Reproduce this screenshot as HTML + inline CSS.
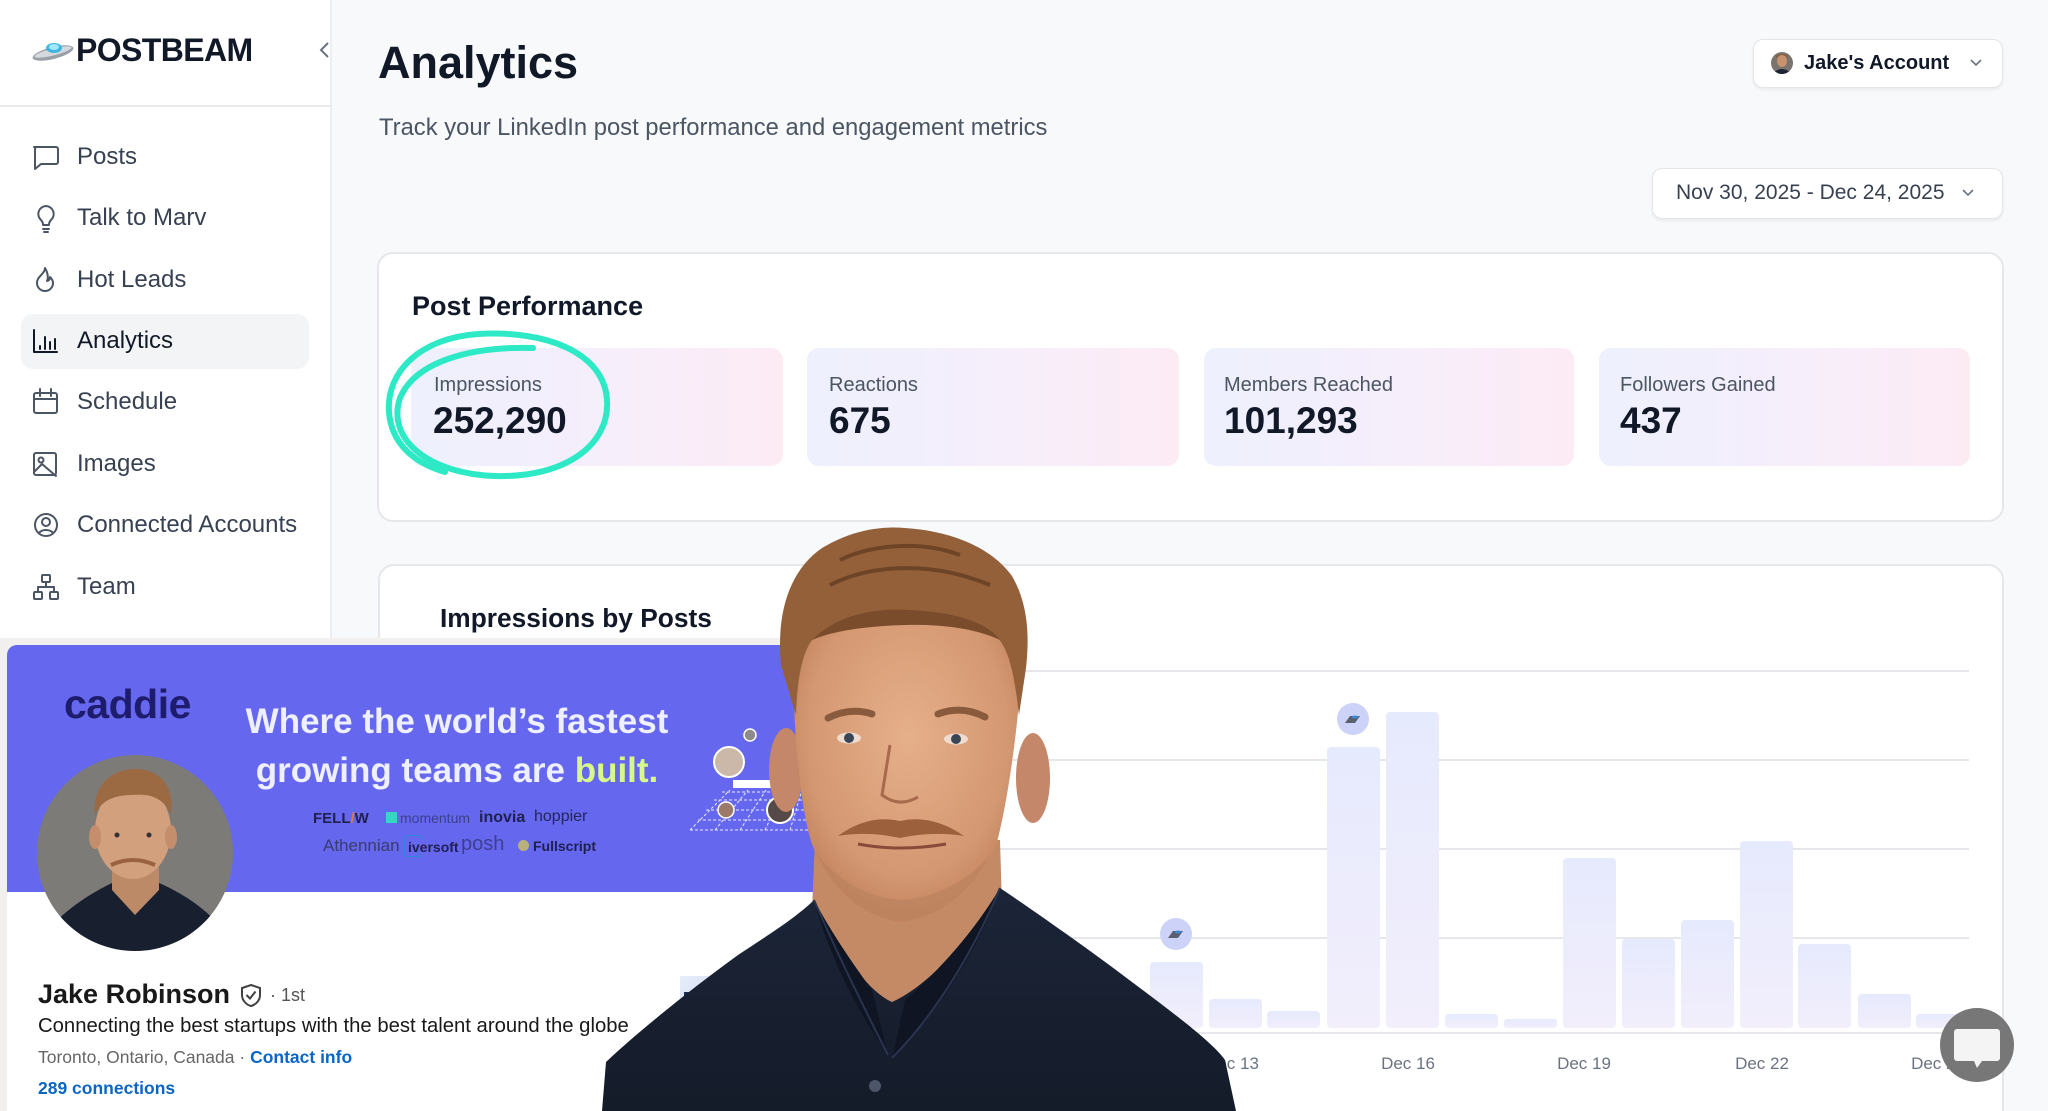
<!DOCTYPE html>
<html>
<head>
<meta charset="utf-8">
<style>
*{margin:0;padding:0;box-sizing:border-box;}
html,body{width:2048px;height:1111px;overflow:hidden;background:#f8f9fb;}
body{font-family:"Liberation Sans",Arial,sans-serif;position:relative;}
.a{position:absolute;}
.t{position:absolute;white-space:nowrap;line-height:1;}
.nav{font-size:24px;color:#374151;left:77px;}
.card{background:#fff;border:2px solid #e6e7ea;border-radius:16px;}
.stat{border-radius:12px;background:linear-gradient(90deg,#eef0fd 0%,#f6eefb 55%,#fdebf4 100%);}
.sl{font-size:20px;color:#4b5563;}
.sv{font-size:37px;font-weight:bold;color:#111827;}
.btn{background:#fff;border:1.5px solid #e3e5e8;border-radius:10px;box-shadow:0 2px 3px rgba(0,0,0,0.06);}
</style>
</head>
<body>

<!-- Sidebar -->
<div class="a" style="left:0;top:0;width:332px;height:640px;background:#fff;border-right:2px solid #eceef1;"></div>
<div class="a" style="left:0;top:105px;width:332px;height:2px;background:#e9eaec;"></div>

<!-- logo -->
<svg class="a" style="left:30px;top:38px" width="46" height="26" viewBox="0 0 46 26">
  <ellipse cx="23" cy="15" rx="21" ry="6" transform="rotate(-14 23 15)" fill="#9aa0a8"/>
  <ellipse cx="23" cy="14" rx="19" ry="3.5" transform="rotate(-14 23 14)" fill="#d5d8dc"/>
  <ellipse cx="24" cy="10" rx="8" ry="5" fill="#3fb6e0"/>
  <ellipse cx="24" cy="9" rx="5" ry="3" fill="#9fe8ff"/>
</svg>
<div class="t" style="left:76px;top:34px;font-size:32px;font-weight:bold;color:#111827;letter-spacing:-0.6px;">POSTBEAM</div>
<svg class="a" style="left:318px;top:41px" width="14" height="18" viewBox="0 0 14 18"><path d="M10 2 L3 9 L10 16" stroke="#6b7280" stroke-width="2" fill="none"/></svg>

<!-- active nav -->
<div class="a" style="left:21px;top:314px;width:288px;height:55px;background:#f3f4f6;border-radius:12px;"></div>

<!-- nav icons -->
<svg class="a" style="left:0;top:0" width="332" height="640" viewBox="0 0 332 640" fill="none" stroke="#4b5563" stroke-width="2" stroke-linecap="round" stroke-linejoin="round">
  <path d="M34 147 h22 a2 2 0 0 1 2 2 v13 a2 2 0 0 1 -2 2 h-15 l-6 5 v-20 a2 2 0 0 1 2 -2 z"/>
  <path d="M46 206 a8 8 0 0 0 -5 14 c1.5 1.5 2 3 2 5 h6 c0 -2 0.5 -3.5 2 -5 a8 8 0 0 0 -5 -14 z M43 229 h6 M44 232 h4"/>
  <path d="M45 268 c0 6 -8 8 -8 15 a8 8 0 0 0 16 0 c0 -3 -2 -5 -3 -6 c0 3 -2 4 -3 4 c2 -4 0 -10 -2 -13 z"/>
  <path d="M34 330 v22 h23 M40 346 v3 M45 337 v12 M50 342 v7 M55 339 v10" stroke="#111827"/>
  <rect x="34" y="393" width="23" height="20" rx="2"/><path d="M34 399 h23 M40 389 v7 M51 389 v7"/>
  <rect x="34" y="453" width="22" height="22" rx="2"/><circle cx="41" cy="460" r="2.5"/><path d="M34 472 l8 -8 l14 12"/>
  <circle cx="46" cy="525" r="11"/><circle cx="46" cy="522" r="4"/><path d="M39 533 c3 -4 11 -4 14 0"/>
  <rect x="42" y="575" width="8" height="7" rx="1"/><rect x="34" y="592" width="8" height="7" rx="1"/><rect x="50" y="592" width="8" height="7" rx="1"/><path d="M46 582 v5 M38 592 v-5 h16 v5"/>
</svg>

<div class="t nav" style="top:145px;">Posts</div>
<div class="t nav" style="top:206px;">Talk to Marv</div>
<div class="t nav" style="top:268px;">Hot Leads</div>
<div class="t nav" style="top:329px;color:#111827;">Analytics</div>
<div class="t nav" style="top:390px;">Schedule</div>
<div class="t nav" style="top:452px;">Images</div>
<div class="t nav" style="top:513px;">Connected Accounts</div>
<div class="t nav" style="top:575px;">Team</div>

<!-- Header -->
<div class="t" style="left:378px;top:40px;font-size:45px;font-weight:bold;color:#111827;">Analytics</div>
<div class="t" style="left:379px;top:116px;font-size:23.8px;color:#4b5563;">Track your LinkedIn post performance and engagement metrics</div>

<div class="a btn" style="left:1753px;top:39px;width:250px;height:49px;"></div>
<svg class="a" style="left:1771px;top:52px" width="22" height="22" viewBox="0 0 22 22">
  <defs><clipPath id="av"><circle cx="11" cy="11" r="11"/></clipPath></defs>
  <g clip-path="url(#av)"><rect width="22" height="22" fill="#7a746e"/><ellipse cx="11" cy="9" rx="5" ry="6" fill="#c8926c"/><path d="M5 6 q6 -6 12 0 v-2 q-6 -4 -12 0z" fill="#8a5a36"/><path d="M1 22 q10 -10 20 0z" fill="#1b2334"/></g>
</svg>
<div class="t" style="left:1804px;top:53px;font-size:20px;font-weight:bold;color:#111827;">Jake's Account</div>
<svg class="a" style="left:1969px;top:58px" width="14" height="10" viewBox="0 0 14 10"><path d="M2 2 L7 7 L12 2" stroke="#6b7280" stroke-width="1.6" fill="none"/></svg>

<div class="a btn" style="left:1652px;top:168px;width:351px;height:51px;"></div>
<div class="t" style="left:1676px;top:182px;font-size:21px;color:#374151;">Nov 30, 2025 - Dec 24, 2025</div>
<svg class="a" style="left:1961px;top:188px" width="14" height="10" viewBox="0 0 14 10"><path d="M2 2 L7 7 L12 2" stroke="#6b7280" stroke-width="1.6" fill="none"/></svg>

<!-- Post Performance card -->
<div class="a card" style="left:377px;top:252px;width:1627px;height:270px;"></div>
<div class="t" style="left:412px;top:293px;font-size:27px;font-weight:bold;color:#111827;">Post Performance</div>
<div class="a stat" style="left:411px;top:348px;width:372px;height:118px;"></div>
<div class="a stat" style="left:807px;top:348px;width:372px;height:118px;"></div>
<div class="a stat" style="left:1204px;top:348px;width:370px;height:118px;"></div>
<div class="a stat" style="left:1599px;top:348px;width:371px;height:118px;"></div>
<div class="t sl" style="left:434px;top:375px;">Impressions</div>
<div class="t sv" style="left:433px;top:402px;">252,290</div>
<div class="t sl" style="left:829px;top:375px;">Reactions</div>
<div class="t sv" style="left:829px;top:402px;">675</div>
<div class="t sl" style="left:1224px;top:375px;">Members Reached</div>
<div class="t sv" style="left:1224px;top:402px;">101,293</div>
<div class="t sl" style="left:1620px;top:375px;">Followers Gained</div>
<div class="t sv" style="left:1620px;top:402px;">437</div>

<!-- teal annotation -->
<svg class="a" style="left:0;top:0" width="700" height="520" viewBox="0 0 700 520">
  <path d="M533 348 C470 346 415 362 400 398 C386 440 430 474 495 476 C565 478 610 445 607 400 C604 352 545 330 478 334 C420 338 386 372 389 412 C391 440 410 462 445 472" fill="none" stroke="#2ee9c6" stroke-width="6" stroke-linecap="round"/>
</svg>

<!-- Chart card -->
<div class="a card" style="left:378px;top:564px;width:1626px;height:600px;"></div>
<div class="t" style="left:440px;top:605px;font-size:26.3px;font-weight:bold;color:#111827;">Impressions by Posts</div>

<svg class="a" style="left:0;top:0" width="2048" height="1111" viewBox="0 0 2048 1111">
  <defs>
    <linearGradient id="bg" x1="0" y1="0" x2="0" y2="1"><stop offset="0" stop-color="#e6eafd"/><stop offset="1" stop-color="#f2eefc"/></linearGradient>
  </defs>
  <g stroke="#e6e7ea" stroke-width="2">
    <line x1="440" y1="671" x2="1969" y2="671"/>
    <line x1="440" y1="760" x2="1969" y2="760"/>
    <line x1="440" y1="849" x2="1969" y2="849"/>
    <line x1="440" y1="938" x2="1969" y2="938"/>
    <line x1="440" y1="1033" x2="1969" y2="1033"/>
  </g>
  <g fill="url(#bg)">
    <rect x="1150" y="962" width="53" height="66" rx="4"/>
    <rect x="1209" y="999" width="53" height="29" rx="4"/>
    <rect x="1267" y="1011" width="53" height="17" rx="4"/>
    <rect x="1327" y="747" width="53" height="281" rx="4"/>
    <rect x="1386" y="712" width="53" height="316" rx="4"/>
    <rect x="1445" y="1014" width="53" height="14" rx="4"/>
    <rect x="1504" y="1019" width="53" height="9" rx="3"/>
    <rect x="1563" y="858" width="53" height="170" rx="4"/>
    <rect x="1622" y="939" width="53" height="89" rx="4"/>
    <rect x="1681" y="920" width="53" height="108" rx="4"/>
    <rect x="1740" y="841" width="53" height="187" rx="4"/>
    <rect x="1798" y="944" width="53" height="84" rx="4"/>
    <rect x="1858" y="994" width="53" height="34" rx="4"/>
    <rect x="1916" y="1014" width="53" height="14" rx="4"/>
  </g>
  <circle cx="1176" cy="934" r="16" fill="#cdd2f8"/>
  <path d="M1168 938 l5 -7 h10 l-5 7 z" fill="#5a6070"/><ellipse cx="1178" cy="932" rx="3" ry="1.5" fill="#3a8ad8"/>
  <circle cx="1353" cy="719" r="16" fill="#cdd2f8"/>
  <path d="M1345 723 l5 -7 h10 l-5 7 z" fill="#5a6070"/><ellipse cx="1355" cy="717" rx="3" ry="1.5" fill="#3a8ad8"/>
  <g font-family="Liberation Sans, Arial, sans-serif" font-size="17" fill="#6b7280" text-anchor="middle">
    <text x="1232" y="1069">Dec 13</text>
    <text x="1408" y="1069">Dec 16</text>
    <text x="1584" y="1069">Dec 19</text>
    <text x="1762" y="1069">Dec 22</text>
    <text x="1938" y="1069">Dec 25</text>
  </g>
</svg>

<!-- LinkedIn panel -->
<div class="a" style="left:0;top:638px;width:880px;height:473px;background:#f1f0ee;"></div>
<div class="a" style="left:7px;top:645px;width:873px;height:247px;background:#6567ee;border-top-left-radius:10px;"></div>
<div class="a" style="left:7px;top:892px;width:873px;height:219px;background:#fff;"></div>

<div class="t" style="left:64px;top:684px;font-size:41px;font-weight:bold;color:#1e1c6c;letter-spacing:-0.5px;">caddie</div>
<div class="t" style="left:187px;top:704px;width:540px;text-align:center;font-size:35px;font-weight:bold;color:#eef0ff;">Where the world’s fastest</div>
<div class="t" style="left:187px;top:753px;width:540px;text-align:center;font-size:35px;font-weight:bold;color:#eef0ff;">growing teams are <span style="color:#d8f98a;">built.</span></div>

<div class="t" style="left:313px;top:811px;font-size:15px;font-weight:bold;color:#1f2050;">FELL<span style="color:#e07a3a">/</span>W</div>
<div class="a" style="left:386px;top:812px;width:11px;height:11px;background:#37d6c0;"></div>
<div class="t" style="left:400px;top:811px;font-size:14px;color:#3d3f8c;">momentum</div>
<div class="t" style="left:479px;top:810px;font-size:16px;font-weight:bold;color:#1f2050;">inovia</div>
<div class="t" style="left:534px;top:809px;font-size:16px;color:#23255c;">hoppier</div>
<div class="t" style="left:323px;top:837px;font-size:17px;color:#3a3c70;">Athennian</div>
<div class="a" style="left:404px;top:835px;width:18px;height:22px;border:1.5px solid #2e8ad8;border-radius:3px;"></div>
<div class="t" style="left:408px;top:840px;font-size:14px;font-weight:bold;color:#1f2050;">iversoft</div>
<div class="t" style="left:461px;top:834px;font-size:20px;color:#3d3f90;">posh</div>
<div class="a" style="left:518px;top:840px;width:11px;height:11px;border-radius:50%;background:#b9b07a;"></div>
<div class="t" style="left:533px;top:839px;font-size:14px;font-weight:bold;color:#1f2050;">Fullscript</div>

<!-- banner decoration -->
<svg class="a" style="left:690px;top:720px" width="120" height="120" viewBox="0 0 120 120">
  <g stroke="#e8eaff" stroke-width="1" fill="none" stroke-dasharray="3 2">
    <path d="M0 110 L120 110 M8 100 L120 100 M16 90 L120 90 M24 80 L120 80 M32 72 L120 72"/>
    <path d="M0 110 L40 70 M25 110 L58 70 M50 110 L76 70 M75 110 L94 70 M100 110 L112 70"/>
  </g>
  <rect x="43" y="60" width="60" height="8" fill="#fff"/>
  <circle cx="39" cy="42" r="15" fill="#cbb8a8" stroke="#fff" stroke-width="2"/>
  <circle cx="60" cy="15" r="6" fill="#8c8a8a" stroke="#fff" stroke-width="1.5"/>
  <circle cx="36" cy="90" r="8" fill="#9b7a6a" stroke="#fff" stroke-width="1.5"/>
  <circle cx="90" cy="90" r="13" fill="#554a48" stroke="#fff" stroke-width="2"/>
</svg>

<!-- profile pic -->
<svg class="a" style="left:37px;top:755px" width="196" height="196" viewBox="0 0 196 196">
  <defs><clipPath id="pc"><circle cx="98" cy="98" r="98"/></clipPath></defs>
  <g clip-path="url(#pc)">
    <rect width="196" height="196" fill="#7c7b78"/>
    <path d="M0 196 C10 165 50 140 75 128 L122 128 C150 140 188 165 196 196 Z" fill="#18202f"/>
    <path d="M75 110 L75 135 L98 160 L122 135 L122 110 Z" fill="#bd8a68"/>
    <ellipse cx="96" cy="76" rx="38" ry="48" fill="#d2a07c"/>
    <ellipse cx="58" cy="82" rx="6" ry="12" fill="#c48e6c"/>
    <ellipse cx="134" cy="82" rx="6" ry="12" fill="#c48e6c"/>
    <path d="M58 60 C55 30 75 14 98 14 C122 14 138 30 134 60 C128 45 115 38 96 40 C78 40 64 45 58 60 Z" fill="#9c6a42"/>
    <path d="M74 110 Q96 100 118 110" stroke="#9a6242" stroke-width="4" fill="none"/>
    <circle cx="80" cy="80" r="2.5" fill="#333"/><circle cx="112" cy="80" r="2.5" fill="#333"/>
  </g>
</svg>

<div class="t" style="left:38px;top:981px;font-size:27px;font-weight:bold;color:#191919;">Jake Robinson</div>
<svg class="a" style="left:240px;top:983px" width="22" height="25" viewBox="0 0 22 25"><path d="M11 2 L20 5 V12 C20 18 15 22 11 23 C7 22 2 18 2 12 V5 Z" fill="none" stroke="#404040" stroke-width="2"/><path d="M6.5 12 L10 15.5 L15.5 8.5" fill="none" stroke="#404040" stroke-width="2"/></svg>
<div class="t" style="left:270px;top:986px;font-size:18px;color:#555;">· 1st</div>
<div class="t" style="left:38px;top:1016px;font-size:20.3px;color:#191919;">Connecting the best startups with the best talent around the globe</div>
<div class="t" style="left:38px;top:1049px;font-size:17.5px;color:#666;">Toronto, Ontario, Canada · <span style="color:#0a66c2;font-weight:bold;">Contact info</span></div>
<div class="t" style="left:38px;top:1080px;font-size:17.5px;font-weight:bold;color:#0a66c2;">289 connections</div>
<div class="a" style="left:680px;top:976px;width:38px;height:30px;background:linear-gradient(135deg,#e8eefb,#cfdaf2);"></div>
<div class="a" style="left:684px;top:992px;width:12px;height:10px;background:#1d2a5a;"></div>

<!-- Person cutout -->
<svg class="a" style="left:0;top:0" width="2048" height="1111" viewBox="0 0 2048 1111">
  <defs>
    <radialGradient id="face" cx="0.5" cy="0.42" r="0.62">
      <stop offset="0" stop-color="#e6b08b"/>
      <stop offset="0.7" stop-color="#d49872"/>
      <stop offset="1" stop-color="#bb7d58"/>
    </radialGradient>
    <linearGradient id="shirt" x1="0" y1="0" x2="0" y2="1">
      <stop offset="0" stop-color="#1c2538"/>
      <stop offset="1" stop-color="#141b29"/>
    </linearGradient>
  </defs>
  <path d="M815 840 L812 910 C840 955 868 992 892 1002 C920 992 962 952 1002 905 L1000 840 Z" fill="#c48a66"/>
  <path d="M602 1111 L606 1062 C640 1030 690 990 738 955 C770 934 798 916 814 900 C840 950 866 990 892 1002 C920 990 965 950 1000 888 C1040 915 1090 950 1140 988 C1180 1018 1214 1044 1225 1060 L1236 1111 Z" fill="url(#shirt)"/>
  <path d="M814 900 C830 960 860 1015 888 1055 L872 990 C850 960 830 930 814 900 Z" fill="#0f1522"/>
  <path d="M1000 888 C975 960 930 1020 892 1060 L905 1000 C940 970 975 930 1000 888 Z" fill="#0f1522"/>
  <path d="M814 900 C840 960 865 1010 888 1055 M1000 888 C970 960 930 1020 892 1058" stroke="#2a3450" stroke-width="2" fill="none"/>
  <circle cx="875" cy="1086" r="6" fill="#4d5668"/>
  <ellipse cx="786" cy="770" rx="17" ry="42" fill="#c4876a"/>
  <ellipse cx="1033" cy="778" rx="17" ry="45" fill="#c4876a"/>
  <path d="M795 640 C791 700 797 780 808 830 C820 882 860 918 901 922 C945 918 986 880 998 838 C1010 790 1022 700 1022 640 C1000 612 950 602 902 602 C852 602 812 612 795 640 Z" fill="url(#face)"/>
  <path d="M781 665 C776 612 790 570 822 548 C852 530 880 526 905 528 C952 531 992 548 1012 576 C1027 602 1030 632 1026 668 L1019 715 C1014 670 1008 646 994 634 C965 620 932 618 902 622 C862 624 832 628 812 640 C801 655 797 684 796 715 Z" fill="#94603a"/>
  <path d="M812 640 C840 612 880 608 910 610 C950 612 985 620 1000 640 C975 628 940 624 905 625 C870 626 835 630 812 640 Z" fill="#7a4c2c"/>
  <path d="M840 560 C870 545 920 540 960 555 M830 585 C870 565 930 560 990 585" stroke="#6e4427" stroke-width="4" fill="none"/>
  <path d="M828 718 Q850 707 872 714" stroke="#8a5a3c" stroke-width="7" fill="none" stroke-linecap="round"/>
  <path d="M938 714 Q962 705 985 717" stroke="#8a5a3c" stroke-width="7" fill="none" stroke-linecap="round"/>
  <ellipse cx="849" cy="738" rx="12" ry="5.5" fill="#efdcd0"/>
  <circle cx="849" cy="738" r="5" fill="#3a4656"/>
  <ellipse cx="956" cy="739" rx="12" ry="5.5" fill="#efdcd0"/>
  <circle cx="956" cy="739" r="5" fill="#3a4656"/>
  <path d="M890 745 L882 795 Q899 808 918 797" stroke="#a86a4c" stroke-width="3" fill="none"/>
  <path d="M838 836 Q868 814 900 821 Q932 814 964 836 Q932 831 900 838 Q868 831 838 836 Z" fill="#9c603d"/>
  <path d="M858 844 Q900 852 946 844" stroke="#8a4a3a" stroke-width="3" fill="none"/>
  <path d="M815 850 C835 895 870 918 901 920 C935 918 970 895 990 855 C970 880 935 898 901 900 C868 898 835 880 815 850 Z" fill="#b9805e" opacity="0.6"/>
</svg>

<!-- chat button -->
<svg class="a" style="left:1938px;top:1006px" width="80" height="80" viewBox="0 0 80 80">
  <circle cx="39" cy="39" r="37" fill="#777777"/>
  <path d="M19 23 h40 a3 3 0 0 1 3 3 v26 a3 3 0 0 1 -3 3 h-15 l-5 7 l-3 -7 h-17 a3 3 0 0 1 -3 -3 v-26 a3 3 0 0 1 3 -3 z" fill="#f4f4f4"/>
</svg>

</body>
</html>
